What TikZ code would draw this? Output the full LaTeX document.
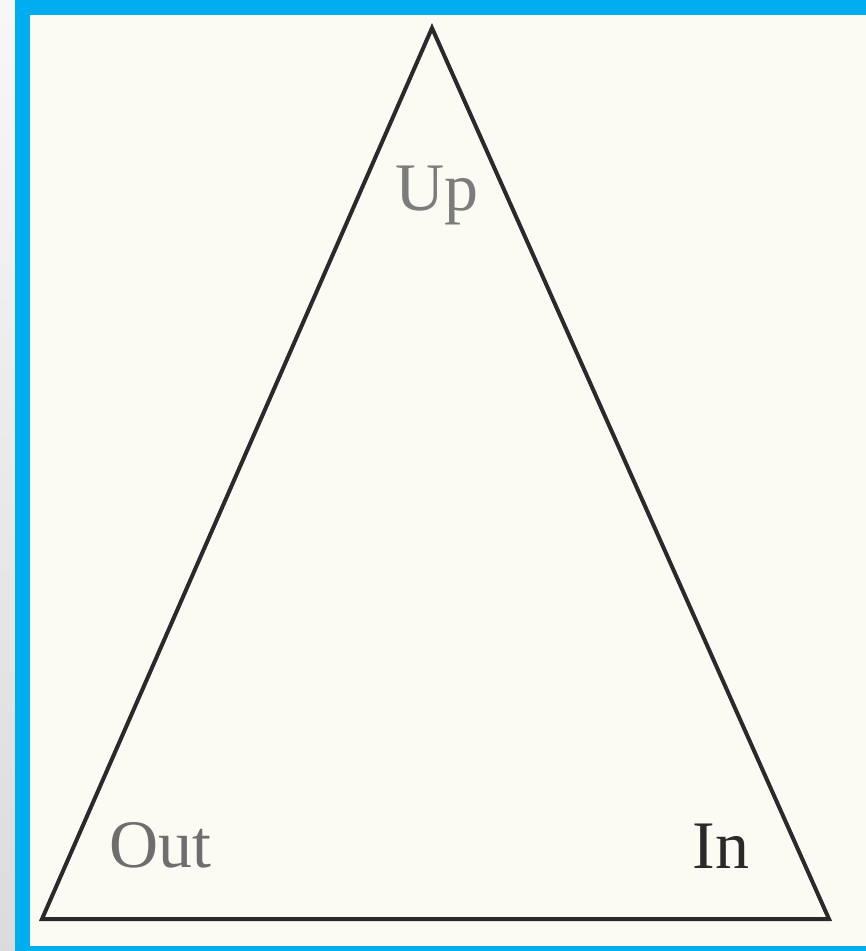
\documentclass[tikz,border=0pt]{standalone}
\usepackage{fontspec}
\setmainfont{Liberation Serif}
\definecolor{frameblue}{HTML}{00AEEF}
\definecolor{paper}{HTML}{FCFBF3}
\definecolor{inkdark}{HTML}{2A2A2A}
\definecolor{inkgray}{HTML}{6E6E6E}
\begin{document}
\begin{tikzpicture}[x=1pt,y=-1pt,
  edge/.style={draw=inkdark,line width=4pt,line join=miter},
  lbl/.style={inner sep=0pt,anchor=base,font=\fontsize{68}{68}\selectfont}]
\useasboundingbox (0,0) rectangle (866,951);
\shade[top color=gray!6,bottom color=gray!28] (0,0) rectangle (866,951);
\fill[frameblue] (15,0) rectangle (866,951);
\fill[paper] (30,15) rectangle (866,946);
\coordinate (top) at (432,28);
\coordinate (bl) at (42,919);
\coordinate (br) at (829,919);
\draw[edge] (top) -- (bl) -- (br) -- cycle;
\node[lbl,text=inkgray!90] (up) at (437,210) {Up};
\node[lbl,text=inkgray] (out) at (160,867) {Out};
\node[lbl,text=inkdark] (in) at (721,868) {In};
\end{tikzpicture}
\end{document}
